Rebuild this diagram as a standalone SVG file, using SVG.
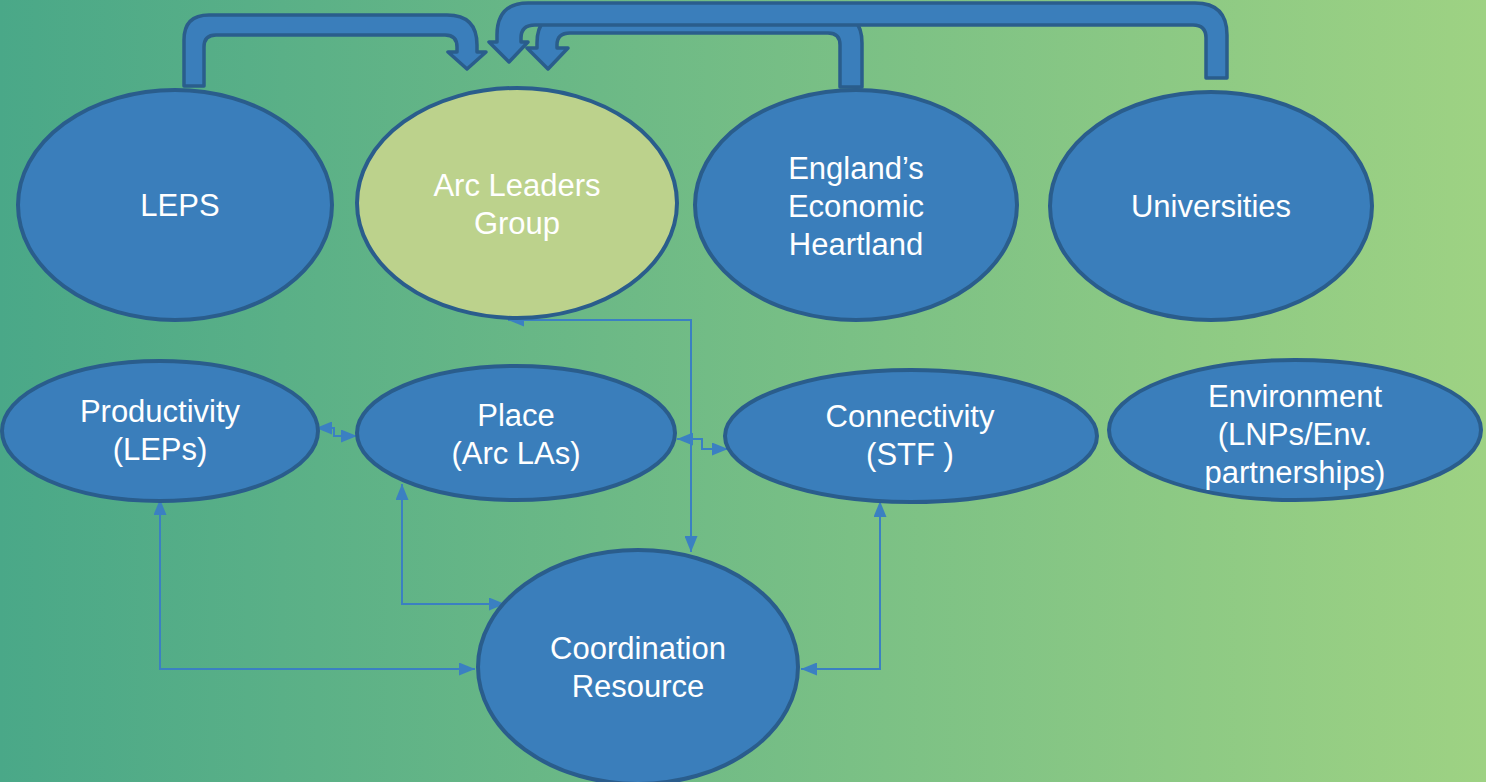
<svg xmlns="http://www.w3.org/2000/svg" width="1486" height="782" viewBox="0 0 1486 782">
<defs>
<linearGradient id="bg" x1="0" y1="0" x2="1" y2="0">
<stop offset="0" stop-color="#4aa888"/>
<stop offset="1" stop-color="#9ed283"/>
</linearGradient>
<marker id="ah" markerUnits="userSpaceOnUse" markerWidth="16" markerHeight="13" refX="16" refY="6.5" orient="auto-start-reverse" viewBox="0 0 16 13">
<path d="M0,0 L16,6.5 L0,13 z" fill="#3b80c2"/>
</marker>
<style>
.node{fill:#3a7ebb;stroke:#2a5d8c;stroke-width:4}
.arc{fill:#bcd28c;stroke:#2a5d8c;stroke-width:4}
.lbl{font-family:"Liberation Sans",Arial,sans-serif;font-size:31px;fill:#ffffff;text-anchor:middle}
.big{fill:#3a7ebb;stroke:#2a5d8c;stroke-width:3.5;stroke-linejoin:round}
.con{fill:none;stroke:#3b80c2;stroke-width:2}
</style>
</defs>
<rect width="1486" height="782" fill="url(#bg)"/>
<g id="connectors">
<path class="big" d="M840,87 V45 Q840,33 828,33 H570 Q557,33 557,45 V48 H568 L548,69 L527,48 H537 V43 Q537,13 567,13 H832 Q862,13 862,43 V87 Z"/>
<path class="big" d="M1206,78 V38 Q1206,25 1193,25 H535 Q521,25 521,38 V42 H528 L509,62 L489,42 H497 V35 Q497,3 528,3 H1195 Q1227,3 1227,35 V78 Z"/>
<path class="big" d="M184,86 V40 Q184,15 209,15 H447 Q477,15 477,45 V52 H486 L467,69 L448,52 H457 V47 Q457,35 445,35 H216 Q204,35 204,47 V86 Z"/>
<path class="con" d="M508,320 H691 V552" marker-start="url(#ah)" marker-end="url(#ah)"/>
<path class="con" d="M677,439 H702 V449 H728" marker-start="url(#ah)" marker-end="url(#ah)"/>
<path class="con" d="M316,428 H334 V436 H357" marker-start="url(#ah)" marker-end="url(#ah)"/>
<path class="con" d="M160,499 V669 H475" marker-start="url(#ah)" marker-end="url(#ah)"/>
<path class="con" d="M402,484 V604 H505" marker-start="url(#ah)" marker-end="url(#ah)"/>
<path class="con" d="M880,501 V669 H801" marker-start="url(#ah)" marker-end="url(#ah)"/>
</g>
<g id="leps"><ellipse class="node" cx="175" cy="205" rx="157" ry="115"/><text class="lbl" x="180" y="216">LEPS</text></g>
<g id="arc-leaders"><ellipse class="arc" cx="517" cy="203" rx="160" ry="115"/><text class="lbl" x="517" y="196">Arc Leaders</text><text class="lbl" x="517" y="234">Group</text></g>
<g id="eeh"><ellipse class="node" cx="856" cy="205" rx="161" ry="115"/><text class="lbl" x="856" y="179">England’s</text><text class="lbl" x="856" y="217">Economic</text><text class="lbl" x="856" y="255">Heartland</text></g>
<g id="universities"><ellipse class="node" cx="1211" cy="206" rx="161" ry="114"/><text class="lbl" x="1211" y="217">Universities</text></g>
<g id="productivity"><ellipse class="node" cx="160" cy="431" rx="158" ry="70"/><text class="lbl" x="160" y="422">Productivity</text><text class="lbl" x="160" y="460">(LEPs)</text></g>
<g id="place"><ellipse class="node" cx="516" cy="433" rx="159" ry="67"/><text class="lbl" x="516" y="426">Place</text><text class="lbl" x="516" y="464">(Arc LAs)</text></g>
<g id="connectivity"><ellipse class="node" cx="911" cy="436" rx="186" ry="66"/><text class="lbl" x="910" y="427">Connectivity</text><text class="lbl" x="910" y="465">(STF )</text></g>
<g id="environment"><ellipse class="node" cx="1295" cy="430" rx="186" ry="70"/><text class="lbl" x="1295" y="407">Environment</text><text class="lbl" x="1295" y="445">(LNPs/Env.</text><text class="lbl" x="1295" y="483">partnerships)</text></g>
<g id="coordination"><ellipse class="node" cx="638" cy="667" rx="160" ry="117"/><text class="lbl" x="638" y="659">Coordination</text><text class="lbl" x="638" y="697">Resource</text></g>
</svg>
